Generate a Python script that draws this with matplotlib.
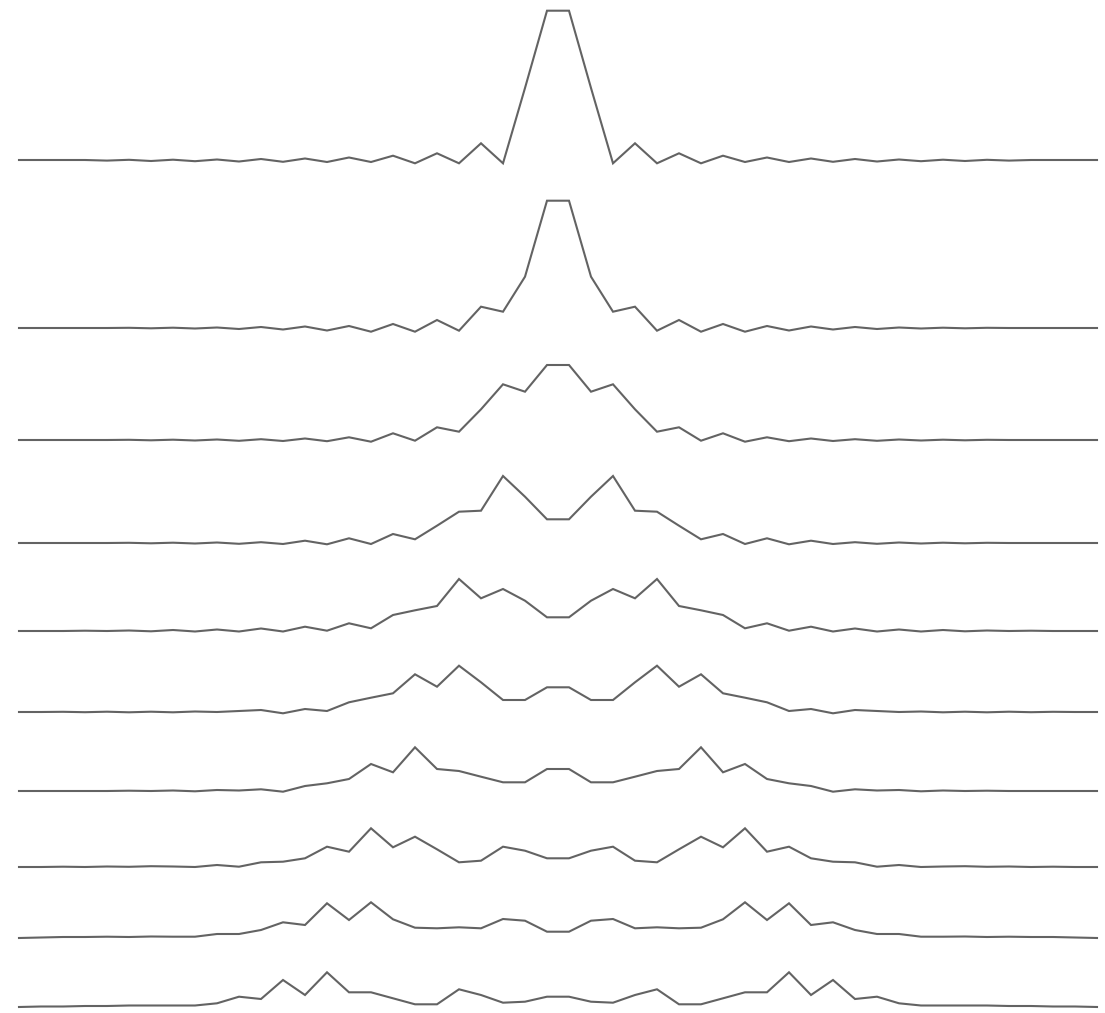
import numpy as np
import matplotlib
matplotlib.use("Agg")
import matplotlib.pyplot as plt

# Ten stacked intensity profiles, 50 samples each (arbitrary units, top to bottom)
p1 = [0, 0, 0, 0, -0.6, 0.2, -1, 0.3, -1.2, 0.5, -1.5, 1, -1.8, 1.5, -2, 2.5, -2, 4.3, -3.3, 6.7, -3.3, 16.7, -3.3, 72, 149.3,
      149.3, 72, -3.3, 16.7, -3.3, 6.7, -3.3, 4.3, -2, 2.5, -2, 1.5, -1.8, 1, -1.5, 0.5, -1.2, 0.3, -1, 0.2, -0.6, 0, 0, 0, 0]
p2 = [0, 0, 0, 0, 0, 0.2, -0.3, 0.3, -0.5, 0.5, -1, 1, -1.5, 1.5, -2.5, 2, -3.7, 4, -3.7, 8, -2.7, 21.3, 16.3, 51.3, 127.3,
      127.3, 51.3, 16.3, 21.3, -2.7, 8, -3.7, 4, -3.7, 2, -2.5, 1.5, -1.5, 1, -1, 0.5, -0.5, 0.3, -0.3, 0.2, 0, 0, 0, 0, 0]
p3 = [0, 0, 0, 0, 0, 0.2, -0.3, 0.3, -0.5, 0.5, -0.8, 0.8, -1, 1.5, -1.2, 2.7, -1.7, 6.7, -0.7, 12.7, 8.3, 30.7, 55.7, 48.3, 75,
      75, 48.3, 55.7, 30.7, 8.3, 12.7, -0.7, 6.7, -1.7, 2.7, -1.2, 1.5, -1, 0.8, -0.8, 0.5, -0.5, 0.3, -0.3, 0.2, 0, 0, 0, 0, 0]
p4 = [0, 0, 0, 0, 0, 0.2, -0.3, 0.3, -0.5, 0.5, -0.8, 0.8, -1, 2.3, -1.3, 4.7, -1, 9, 3.7, 17.3, 31.3, 32.3, 67, 46.3, 23.7,
      23.7, 46.3, 67, 32.3, 31.3, 17.3, 3.7, 9, -1, 4.7, -1.3, 2.3, -1, 0.8, -0.8, 0.5, -0.5, 0.3, -0.3, 0.2, 0, 0, 0, 0, 0]
p5 = [0, 0, 0, 0.3, 0, 0.5, -0.3, 1, -0.5, 1.5, -0.5, 2.5, -0.5, 4.3, 0.3, 7.7, 2.7, 16, 20.7, 25, 52, 32.7, 42, 30.3, 13.7,
      13.7, 30.3, 42, 32.7, 52, 25, 20.7, 16, 2.7, 7.7, 0.3, 4.3, -0.5, 2.5, -0.5, 1.5, -0.5, 1, -0.3, 0.5, 0, 0.3, 0, 0, 0]
p6 = [0, 0, 0.2, -0.2, 0.3, -0.3, 0.3, -0.3, 0.5, 0, 1, 2, -1.3, 3, 1, 9.7, 14.3, 18.7, 37.7, 25.3, 46.3, 29.7, 12, 12, 24.7,
      24.7, 12, 12, 29.7, 46.3, 25.3, 37.7, 18.7, 14.3, 9.7, 1, 3, -1.3, 2, 1, 0, 0.5, -0.3, 0.3, -0.3, 0.3, -0.2, 0.2, 0, 0]
p7 = [0, 0, 0, 0, 0, 0.3, 0, 0.5, -0.3, 1, 0.5, 1.7, -0.7, 5, 7.7, 12, 27, 18.7, 43.7, 22, 20, 14.3, 8.7, 8.7, 22,
      22, 8.7, 8.7, 14.3, 20, 22, 43.7, 18.7, 27, 12, 7.7, 5, -0.7, 1.7, 0.5, 1, -0.3, 0.5, 0, 0.3, 0, 0, 0, 0, 0]
p8 = [0, 0, 0.3, 0, 0.5, 0.2, 0.8, 0.5, 0, 2, 0.3, 4.7, 5.3, 8.7, 20.3, 15.3, 38.7, 19.7, 30.3, 17.7, 4.7, 6.3, 20.3, 16.3, 8.7,
      8.7, 16.3, 20.3, 6.3, 4.7, 17.7, 30.3, 19.7, 38.7, 15.3, 20.3, 8.7, 5.3, 4.7, 0.3, 2, 0, 0.5, 0.8, 0.2, 0.5, 0, 0.3, 0, 0]
p9 = [-1, -0.5, 0, 0, 0.3, 0, 0.5, 0.3, 0.3, 3, 3, 7, 14.7, 12, 33.7, 17, 34.7, 17.7, 9.3, 8.7, 9.7, 8.7, 18, 16.3, 5.3,
      5.3, 16.3, 18, 8.7, 9.7, 8.7, 9.3, 17.7, 34.7, 17, 33.7, 12, 14.7, 7, 3, 3, 0.3, 0.3, 0.5, 0, 0.3, 0, 0, -0.5, -1]
p10 = [-2, -1.5, -1.5, -1, -1, -0.5, -0.5, -0.5, -0.5, 1.7, 8.3, 6, 25, 10, 32.7, 12.7, 12.7, 6.7, 0.7, 0.7, 15.7, 10, 2.3, 3.3, 8.3,
       8.3, 3.3, 2.3, 10, 15.7, 0.7, 0.7, 6.7, 12.7, 12.7, 32.7, 10, 25, 6, 8.3, 1.7, -0.5, -0.5, -0.5, -0.5, -1, -1, -1.5, -1.5, -2]

profiles = [p1, p2, p3, p4, p5, p6, p7, p8, p9, p10]

# vertical position of each trace's zero line (drawing units, y grows downward)
baselines = [160, 328, 440, 543, 631, 712, 791, 867, 937, 1005]

fig = plt.figure(figsize=(11.05, 10.13), dpi=100)
ax = fig.add_axes([0, 0, 1, 1])
x = np.arange(len(p1))
for prof, base in zip(profiles, baselines):
    ax.plot(x, base - np.asarray(prof), color='#636363', lw=1.5,
            solid_joinstyle='miter')

ax.set_xlim(-19 / 22, (1105 - 19) / 22)
ax.set_ylim(1013, 0)
ax.axis('off')
fig.savefig('out.png', dpi=100, facecolor='white')
